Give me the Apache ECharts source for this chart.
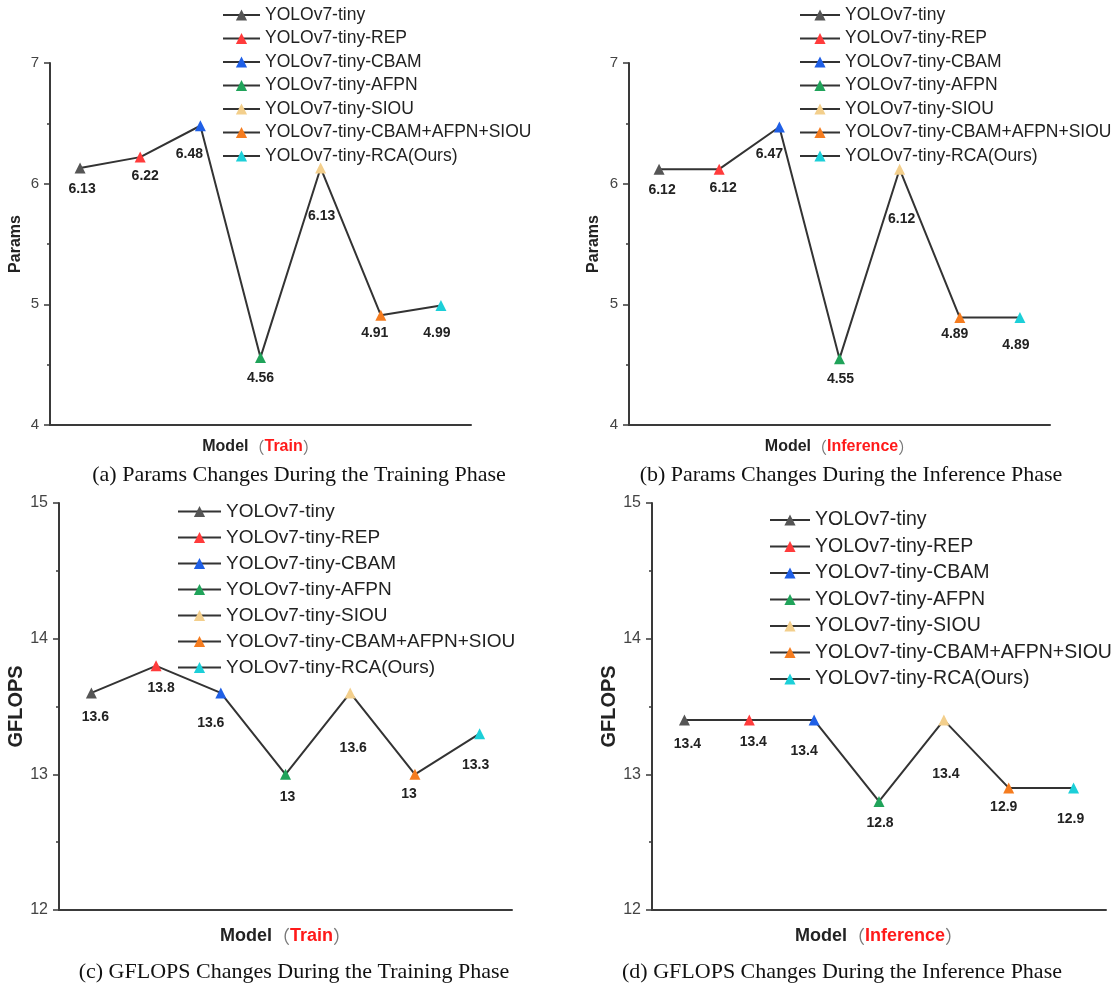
<!DOCTYPE html>
<html>
<head>
<meta charset="utf-8">
<script src="https://cdn.jsdelivr.net/npm/echarts@6/dist/echarts.min.js"></script>
<style>
html, body { margin: 0; padding: 0; background: #fff; }
#main { width: 1118px; height: 986px; }
</style>
</head>
<body>
<div id="main"></div>
<script>
// model names, one colored triangle each
var models = ['YOLOv7-tiny', 'YOLOv7-tiny-REP', 'YOLOv7-tiny-CBAM', 'YOLOv7-tiny-AFPN',
    'YOLOv7-tiny-SIOU', 'YOLOv7-tiny-CBAM+AFPN+SIOU', 'YOLOv7-tiny-RCA(Ours)'];
var markerColors = ['#555555', '#ff3b3b', '#1f5fe6', '#20a35a', '#f3cf8c', '#f57c1f', '#1ccfd8'];

// values
var paramsTrain = [6.13, 6.22, 6.48, 4.56, 6.13, 4.91, 4.99];
var paramsInfer = [6.12, 6.12, 6.47, 4.55, 6.12, 4.89, 4.89];
var gflopsTrain = [13.6, 13.8, 13.6, 13, 13.6, 13, 13.3];
var gflopsInfer = [13.4, 13.4, 13.4, 12.8, 13.4, 12.9, 12.9];

// y axis ranges
var paramsRange = [4, 7];
var gflopsRange = [12, 15];

// label offsets from each triangle (px)
var offA = [[2, 21], [5, 19], [-11, 28], [0, 21], [1, 48], [-6, 18], [-4, 28]];
var offB = [[3, 21], [4, 19], [-10, 27], [1, 21], [2, 50], [-5, 17], [-4, 28]];
var offC = [[4, 24], [5, 22], [-10, 30], [2, 23], [3, 55], [-6, 20], [-4, 32]];
var offD = [[3, 24], [4, 22], [-10, 31], [1, 22], [2, 54], [-5, 19], [-3, 31]];

var dom = document.getElementById('main');
var myChart = echarts.init(dom);

var panels = [
    { data: paramsTrain, range: paramsRange, off: offA, yName: 'Params', yNameSize: 16, yGap: 26,
      phase: 'Train', xNameSize: 16, xGap: 14, tickSize: 15,
      grid: { left: 50, top: 63, width: 421, height: 362 },
      legend: { left: 222, top: 6, itemWidth: 37, fontSize: 17.5, itemGap: 5.5 },
      caption: { x: 299, y: 475, text: '(a) Params Changes During the Training Phase' } },
    { data: paramsInfer, range: paramsRange, off: offB, yName: 'Params', yNameSize: 16, yGap: 27,
      phase: 'Inference', xNameSize: 16, xGap: 14, tickSize: 15,
      grid: { left: 629, top: 63, width: 421, height: 362 },
      legend: { left: 799, top: 6, itemWidth: 40, fontSize: 17.5, itemGap: 5.5 },
      caption: { x: 851, y: 475, text: '(b) Params Changes During the Inference Phase' } },
    { data: gflopsTrain, range: gflopsRange, off: offC, yName: 'GFLOPS', yNameSize: 20, yGap: 32,
      phase: 'Train', xNameSize: 18, xGap: 17, tickSize: 16,
      grid: { left: 59, top: 503, width: 453, height: 407 },
      legend: { left: 177, top: 502, itemWidth: 43, fontSize: 19, itemGap: 7 },
      caption: { x: 294, y: 972, text: '(c) GFLOPS Changes During the Training Phase' } },
    { data: gflopsInfer, range: gflopsRange, off: offD, yName: 'GFLOPS', yNameSize: 20, yGap: 32,
      phase: 'Inference', xNameSize: 18, xGap: 17, tickSize: 16,
      grid: { left: 652, top: 503, width: 454, height: 407 },
      legend: { left: 769, top: 510, itemWidth: 40, fontSize: 19.5, itemGap: 6.5 },
      caption: { x: 842, y: 972, text: '(d) GFLOPS Changes During the Inference Phase' } }
];

var axisColor = '#3a3a3a';
var grids = [], xAxes = [], yAxes = [], legends = [], series = [], graphics = [];

panels.forEach(function (p, k) {
    grids.push(p.grid);
    xAxes.push({
        type: 'value', gridIndex: k, min: 0.5, max: 7.5,
        axisLine: { show: true, lineStyle: { color: axisColor, width: 2 } },
        axisTick: { show: false }, axisLabel: { show: false }, splitLine: { show: false },
        name: '{a|Model}{p|（}{r|' + p.phase + '}{p|）}',
        nameLocation: 'middle', nameGap: p.xGap,
        nameTextStyle: {
            rich: {
                a: { fontFamily: 'Liberation Sans', fontWeight: 'bold', fontSize: p.xNameSize, color: '#222' },
                p: { fontFamily: 'Noto Sans CJK SC', fontSize: p.xNameSize, color: '#777' },
                r: { fontFamily: 'Liberation Sans', fontWeight: 'bold', fontSize: p.xNameSize, color: '#ff1a1a' }
            }
        }
    });
    yAxes.push({
        type: 'value', gridIndex: k, min: p.range[0], max: p.range[1], interval: 1,
        axisLine: { show: true, lineStyle: { color: axisColor, width: 2 } },
        axisTick: { show: true, length: 6, lineStyle: { color: axisColor, width: 1.5 } },
        minorTick: { show: true, splitNumber: 2, length: 3, lineStyle: { color: axisColor, width: 1.5 } },
        axisLabel: { fontFamily: 'Liberation Sans', fontSize: p.tickSize, color: '#444', margin: 11 },
        splitLine: { show: false },
        name: p.yName, nameLocation: 'middle', nameGap: p.yGap,
        nameTextStyle: { fontFamily: 'Liberation Sans', fontWeight: 'bold', fontSize: p.yNameSize, color: '#222' }
    });
    legends.push({
        orient: 'vertical', left: p.legend.left, top: p.legend.top,
        itemWidth: p.legend.itemWidth, itemHeight: 14, itemGap: p.legend.itemGap,
        padding: 0, selectedMode: false, data: models,
        textStyle: { fontFamily: 'Liberation Sans', fontSize: p.legend.fontSize, color: '#222' }
    });
    // connecting black line
    series.push({
        type: 'line', xAxisIndex: k, yAxisIndex: k, symbol: 'none', silent: true, z: 2,
        lineStyle: { color: '#333', width: 2 },
        data: p.data.map(function (v, i) { return [i + 1, v]; })
    });
    // one triangle per model
    models.forEach(function (m, i) {
        series.push({
            name: m, type: 'line', xAxisIndex: k, yAxisIndex: k, z: 3,
            symbol: 'triangle', symbolSize: 11,
            itemStyle: { color: markerColors[i] },
            lineStyle: { color: '#333', width: 2 },
            label: {
                show: true, position: 'inside', offset: p.off[i],
                fontFamily: 'Liberation Sans', fontWeight: 'bold', fontSize: 14,
                color: '#222', textBorderWidth: 0,
                formatter: function (q) { return q.value[1]; }
            },
            data: [[i + 1, p.data[i]]]
        });
    });
    graphics.push({
        type: 'text', x: p.caption.x, y: p.caption.y,
        style: {
            text: p.caption.text, fontFamily: 'Liberation Serif', fontSize: 22,
            fill: '#111', textAlign: 'center', textVerticalAlign: 'middle'
        }
    });
});

var option = {
    backgroundColor: '#fff',
    animation: false,
    grid: grids,
    xAxis: xAxes,
    yAxis: yAxes,
    legend: legends,
    series: series,
    graphic: graphics
};

if (option && typeof option === 'object') {
    myChart.setOption(option);
}
</script>
</body>
</html>
